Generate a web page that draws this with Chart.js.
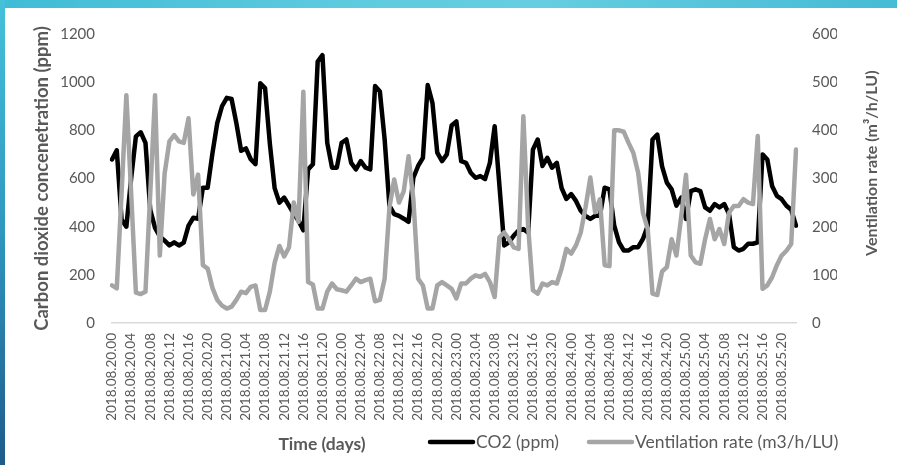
<!DOCTYPE html>
<html>
<head>
<meta charset="utf-8">
<script src="https://cdn.jsdelivr.net/npm/chart.js@4.4.1/dist/chart.umd.min.js"></script>
<style>
  html, body { margin: 0; padding: 0; }
  body { width: 897px; height: 465px; position: relative; overflow: hidden; background: #fff; }
  .top-strip { position: absolute; left: 0; top: 0; width: 897px; height: 8px;
    background: linear-gradient(to right, #3fbcd6 0%, #5fcbdf 40%, #66cee0 60%, #45bbd5 100%); }
  .left-strip { position: absolute; left: 0; top: 0; width: 5px; height: 465px;
    background: linear-gradient(to bottom, #45c1da 0%, #2f97c0 50%, #1d5b8a 100%); }
  .frame { position: absolute; left: 5px; top: 8px; width: 892px; height: 457px; background: #fff; }
  canvas { display: block; }
</style>
</head>
<body>
<div class="top-strip"></div>
<div class="left-strip"></div>
<div class="frame"><canvas id="chart" width="892" height="457"></canvas></div>
<script>
// hourly readings, 20-25 August 2018
const days = ["20", "21", "22", "23", "24", "25"];
const hours = ["00", "01", "02", "03", "04", "05", "06", "07", "08", "09", "10", "11",
               "12", "13", "14", "15", "16", "17", "18", "19", "20", "21", "22", "23"];

// CO2 (ppm), one array per day
const co2Day20 = [679, 717, 430, 400, 600, 775, 792, 748, 470, 395, 360, 342, 322, 335, 322, 334, 404, 437, 433, 562, 562, 705, 830, 900];
const co2Day21 = [935, 930, 830, 715, 725, 680, 660, 995, 975, 745, 560, 500, 521, 487, 453, 425, 385, 638, 659, 1085, 1112, 748, 645, 645];
const co2Day22 = [748, 762, 665, 638, 672, 645, 638, 984, 961, 762, 487, 452, 445, 433, 420, 603, 652, 686, 988, 913, 707, 672, 700, 820];
const co2Day23 = [837, 672, 665, 624, 603, 610, 598, 665, 817, 570, 322, 335, 363, 384, 390, 375, 720, 762, 652, 686, 645, 665, 560, 515];
const co2Day24 = [535, 507, 466, 445, 432, 445, 445, 562, 555, 404, 335, 301, 301, 315, 315, 349, 404, 762, 782, 650, 583, 555, 487, 521];
const co2Day25 = [432, 548, 555, 548, 480, 466, 494, 480, 494, 452, 315, 301, 308, 329, 329, 335, 700, 679, 569, 528, 514, 487, 470, 404];

// ventilation rate (m3/h/LU), one array per day
const ventDay20 = [78, 72, 270, 473, 270, 63, 60, 65, 270, 473, 140, 310, 377, 390, 377, 374, 425, 267, 308, 120, 113, 73, 48, 36];
const ventDay21 = [30, 34, 48, 65, 62, 75, 78, 27, 27, 65, 125, 160, 138, 157, 250, 210, 480, 85, 80, 30, 30, 65, 82, 70];
const ventDay22 = [68, 65, 78, 92, 85, 89, 92, 45, 48, 92, 240, 298, 250, 274, 346, 257, 92, 78, 30, 30, 78, 85, 78, 71];
const ventDay23 = [51, 82, 82, 92, 99, 96, 102, 85, 54, 178, 188, 174, 157, 154, 429, 200, 68, 61, 82, 78, 85, 82, 113, 154];
const ventDay24 = [144, 161, 188, 240, 302, 230, 257, 120, 118, 400, 400, 397, 374, 353, 312, 229, 195, 61, 58, 107, 116, 174, 140, 220];
const ventDay25 = [308, 140, 126, 123, 174, 216, 174, 195, 164, 229, 243, 243, 257, 250, 247, 388, 71, 78, 95, 120, 140, 150, 164, 360];

const co2Max = 1200, co2Step = 200;
const ventMax = 600, ventStep = 100;

const labels = days.flatMap(d => hours.map(h => `2018.08.${d}.${h}`));
const co2 = [].concat(co2Day20, co2Day21, co2Day22, co2Day23, co2Day24, co2Day25);
const vent = [].concat(ventDay20, ventDay21, ventDay22, ventDay23, ventDay24, ventDay25);

const textColor = "#595959";
const family = "Lato, 'Liberation Sans', sans-serif";

// right-hand title (reads upward) plus the bottom row: axis title and legend side by side
const overlay = {
  id: "overlay",
  afterDraw(chart) {
    const { ctx, chartArea, scales } = chart;
    ctx.save();
    ctx.fillStyle = textColor;
    ctx.textBaseline = "middle";

    ctx.font = `bold 16px ${family}`;
    ctx.textAlign = "center";
    ctx.save();
    ctx.translate(scales.y1.right + 35, chartArea.top + chartArea.height * 0.447);
    ctx.rotate(-Math.PI / 2);
    ctx.fillText("Ventilation rate (m\u00b3/h/LU)", 0, 0);
    ctx.restore();

    const rowY = chart.height - 23;
    ctx.font = `bold 17.5px ${family}`;
    ctx.fillText("Time (days)", chartArea.left + 210, rowY + 2);

    ctx.font = `17.5px ${family}`;
    ctx.textAlign = "left";
    let x = chartArea.left + 318;
    chart.data.datasets.forEach(ds => {
      ctx.strokeStyle = ds.borderColor;
      ctx.lineWidth = 4.5;
      ctx.lineCap = "round";
      ctx.beginPath();
      ctx.moveTo(x, rowY);
      ctx.lineTo(x + 43, rowY);
      ctx.stroke();
      ctx.fillText(ds.label, x + 46, rowY);
      x += 46 + ctx.measureText(ds.label).width + 30;
    });
    ctx.restore();
  }
};

new Chart(document.getElementById("chart"), {
  type: "line",
  data: {
    labels: labels,
    datasets: [
      {
        label: "CO2 (ppm)",
        data: co2,
        yAxisID: "y",
        borderColor: "#000000",
        borderWidth: 4.5,
        order: 2
      },
      {
        label: "Ventilation rate (m3/h/LU)",
        data: vent,
        yAxisID: "y1",
        borderColor: "#a5a5a5",
        borderWidth: 4.5,
        order: 1
      }
    ]
  },
  options: {
    responsive: false,
    animation: false,
    layout: { padding: { left: 0, right: 60, top: 24, bottom: 45 } },
    elements: {
      point: { radius: 0 },
      line: { tension: 0, borderJoinStyle: "round", borderCapStyle: "round" }
    },
    plugins: {
      legend: { display: false },
      tooltip: { enabled: false }
    },
    scales: {
      x: {
        afterFit: s => { s.height = 97; },
        grid: { display: false, drawTicks: false },
        border: { display: true, color: "#d9d9d9", width: 1.5 },
        ticks: {
          autoSkip: false,
          maxRotation: 90,
          minRotation: 90,
          padding: 10,
          color: textColor,
          font: { family: family, size: 13.5 },
          callback: function (val, i) {
            return i % 4 === 0 ? this.getLabelForValue(val) : null;
          }
        }
      },
      y: {
        position: "left",
        min: 0,
        max: co2Max,
        afterFit: s => { s.width = 107; },
        grid: { display: false, drawTicks: false },
        border: { display: false },
        ticks: {
          stepSize: co2Step, padding: 17, color: textColor,
          font: { family: family, size: 15 },
          callback: v => String(v)
        },
        title: {
          display: true,
          text: "Carbon dioxide concenetration (ppm)",
          color: textColor,
          font: { family: family, size: 18.5, weight: "bold" },
          padding: { top: 26, bottom: 4 }
        }
      },
      y1: {
        position: "right",
        min: 0,
        max: ventMax,
        afterFit: s => { s.width = 41; },
        grid: { display: false, drawTicks: false },
        border: { display: false },
        ticks: {
          stepSize: ventStep, padding: 16, color: textColor,
          font: { family: family, size: 15 },
          callback: v => String(v)
        }
      }
    }
  },
  plugins: [overlay]
});
</script>
</body>
</html>
